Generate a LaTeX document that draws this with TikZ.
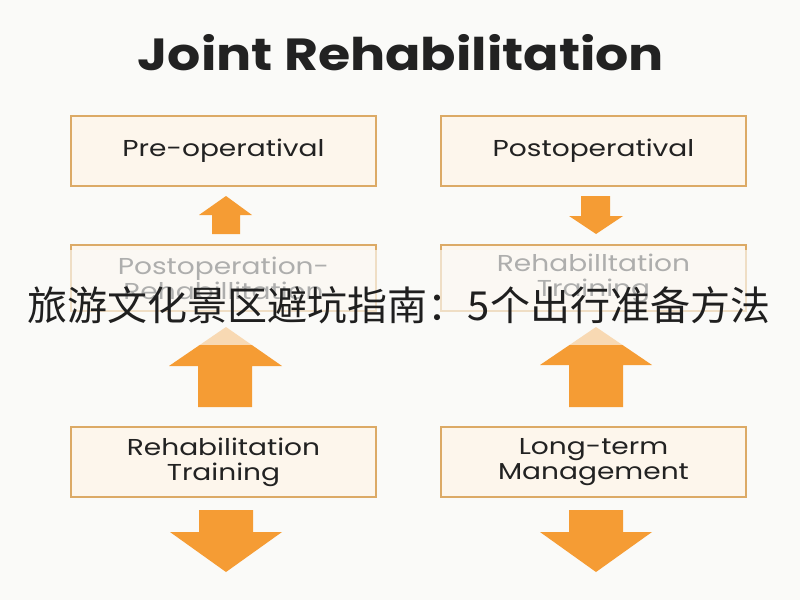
\documentclass[tikz,border=0pt]{standalone}
\usepackage{fontspec}
\setmainfont{Poppins}
\newfontfamily\boxfont[FakeStretch=1.22]{Poppins}
\newfontfamily\titlefont[FakeStretch=1.16]{Poppins}
\newfontfamily\cjkfont{Noto Sans CJK SC}
\definecolor{bgcol}{HTML}{FAFAF8}
\definecolor{boxfill}{HTML}{FDF6EC}
\definecolor{boxline}{HTML}{DCAA66}
\definecolor{arrcol}{HTML}{F59C34}
\definecolor{txtcol}{HTML}{222222}
\tikzset{
  stagebox/.style={draw=boxline, line width=1.6pt, fill=boxfill,
    minimum width=305pt, minimum height=70pt, inner sep=0pt,
    align=center, text=txtcol, font=\boxfont\fontsize{23}{25}\selectfont},
  blockarrow/.style={fill=arrcol, draw=none},
}
\begin{document}
\begin{tikzpicture}[x=1pt,y=-1pt]
\fill[bgcol] (0,0) rectangle (800,600);
\useasboundingbox (0,0) rectangle (800,600);
% title
\node[font=\titlefont\bfseries\fontsize{45}{48}\selectfont, text=txtcol] (title) at (401,53) {Joint Rehabilitation};
% boxes
\node[stagebox] (pre) at (223.5,151) {Pre-operatival};
\node[stagebox] (post) at (593.5,151) {Postoperatival};
\node[stagebox, minimum height=66pt] (mid1) at (223.5,278) {Postoperation-\\Rehabillitation};
\node[stagebox, minimum height=66pt] (mid2) at (593.5,278) {Rehabilltation\\Training};
\node[stagebox] (rt) at (223.5,462) {Rehabilitation\\Training};
\node[stagebox] (lt) at (593.5,462) {Long-term\\Management};
% small arrows
\fill[blockarrow] (226,196) -- (252,215) -- (240,215) -- (240,234) -- (212,234) -- (212,215) -- (199,215) -- cycle;
\fill[blockarrow] (596,234) -- (623,216) -- (610,216) -- (610,196) -- (581,196) -- (581,216) -- (569,216) -- cycle;
% large up arrows
\fill[blockarrow] (226,327) -- (282,366) -- (252,366) -- (252,407) -- (198,407) -- (198,366) -- (169,366) -- cycle;
\fill[blockarrow] (596,327) -- (652,365) -- (623,365) -- (623,407) -- (569,407) -- (569,365) -- (540,365) -- cycle;
% bottom down arrows
\fill[blockarrow] (226,572) -- (282,532) -- (253,532) -- (253,510) -- (199,510) -- (199,532) -- (170,532) -- cycle;
\fill[blockarrow] (596,572) -- (652,532) -- (623,532) -- (623,510) -- (569,510) -- (569,532) -- (540,532) -- cycle;
% overlay band
\fill[bgcol, opacity=0.65] (0,250) rectangle (800,345);
\node[font=\cjkfont\fontsize{40}{40}\selectfont, text=black!88, inner sep=0pt] (banner) at (399,305) {旅游文化景区避坑指南：5个出行准备方法};
\end{tikzpicture}
\end{document}
